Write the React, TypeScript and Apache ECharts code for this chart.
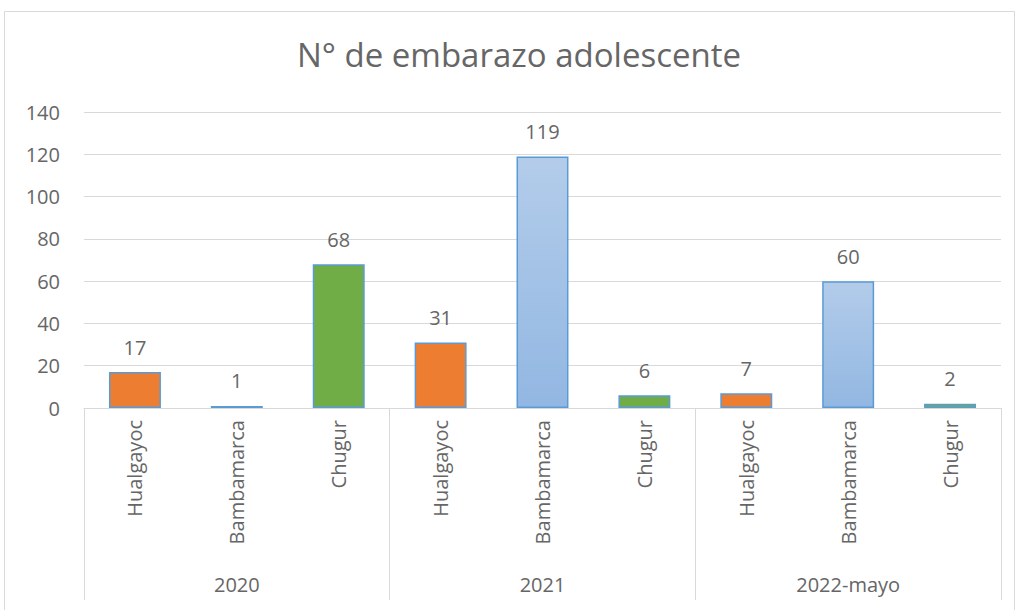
import React, { useEffect, useRef } from "react";
import * as echarts from "echarts";

const districts = ["Hualgayoc", "Bambamarca", "Chugur", "Hualgayoc", "Bambamarca", "Chugur", "Hualgayoc", "Bambamarca", "Chugur"];
const years = ["2020", "2021", "2022-mayo"];
const values = [17, 1, 68, 31, 119, 6, 7, 60, 2];
const yTicks = { min: 0, max: 140, interval: 20 };

const FONT = "Open Sans";
const GRAY = "#666666";
const LINE = "#D9D9D9";

function colorFor(name: string) {
  if (name === "Hualgayoc") return "#ED7D31";
  if (name === "Chugur") return "#70AD47";
  return new echarts.graphic.LinearGradient(0, 0, 0, 1, [
    { offset: 0, color: "#B3CCEA" },
    { offset: 1, color: "#92B7E2" },
  ]);
}

export default function App() {
  const ref = useRef<HTMLDivElement>(null);
  useEffect(() => {
    document.body.style.margin = "0";
    const chart = echarts.init(ref.current!, undefined, { renderer: "svg" });
    chart.setOption({
      animation: false,
      backgroundColor: "#ffffff",
      textStyle: { fontFamily: FONT },
      title: {
        text: "N° de embarazo adolescente",
        left: 292,
        top: 33,
        textStyle: { fontFamily: FONT, fontSize: 33, fontWeight: "normal", color: GRAY },
      },
      graphic: [
        {
          type: "rect",
          shape: { x: 4.5, y: 11.5, width: 1010, height: 640 },
          style: { fill: "none", stroke: LINE, lineWidth: 1 },
          silent: true,
        },
      ],
      grid: { left: 84, right: 18, top: 112, bottom: 202, containLabel: false },
      xAxis: [
        {
          type: "category",
          data: districts,
          position: "bottom",
          axisLine: { show: true, lineStyle: { color: LINE, width: 1 } },
          axisTick: { show: false },
          axisLabel: { rotate: 90, margin: 12, fontSize: 20, color: GRAY, fontFamily: FONT, interval: 0 },
        },
        {
          type: "category",
          data: years,
          position: "bottom",
          axisLine: { show: false },
          axisTick: { show: true, length: 192, lineStyle: { color: LINE, width: 1 } },
          axisLabel: { margin: 166, fontSize: 20, color: GRAY, fontFamily: FONT },
        },
      ],
      yAxis: {
        type: "value",
        min: yTicks.min,
        max: yTicks.max,
        interval: yTicks.interval,
        axisLine: { show: false },
        axisTick: { show: false },
        axisLabel: { margin: 24, fontSize: 20, color: GRAY, fontFamily: FONT },
        splitLine: { lineStyle: { color: LINE, width: 1 } },
      },
      series: [
        {
          type: "bar",
          xAxisIndex: 0,
          barWidth: "51%",
          data: values.map((v, i) => ({
            value: v,
            itemStyle: { color: colorFor(districts[i]), borderColor: "#5B9BD5", borderWidth: 1.5 },
          })),
          label: { show: true, position: "top", distance: 15, fontSize: 20, color: GRAY, fontFamily: FONT },
        },
      ],
    });
    return () => chart.dispose();
  }, []);
  return <div ref={ref} style={{ width: 1019, height: 610 }} />;
}
